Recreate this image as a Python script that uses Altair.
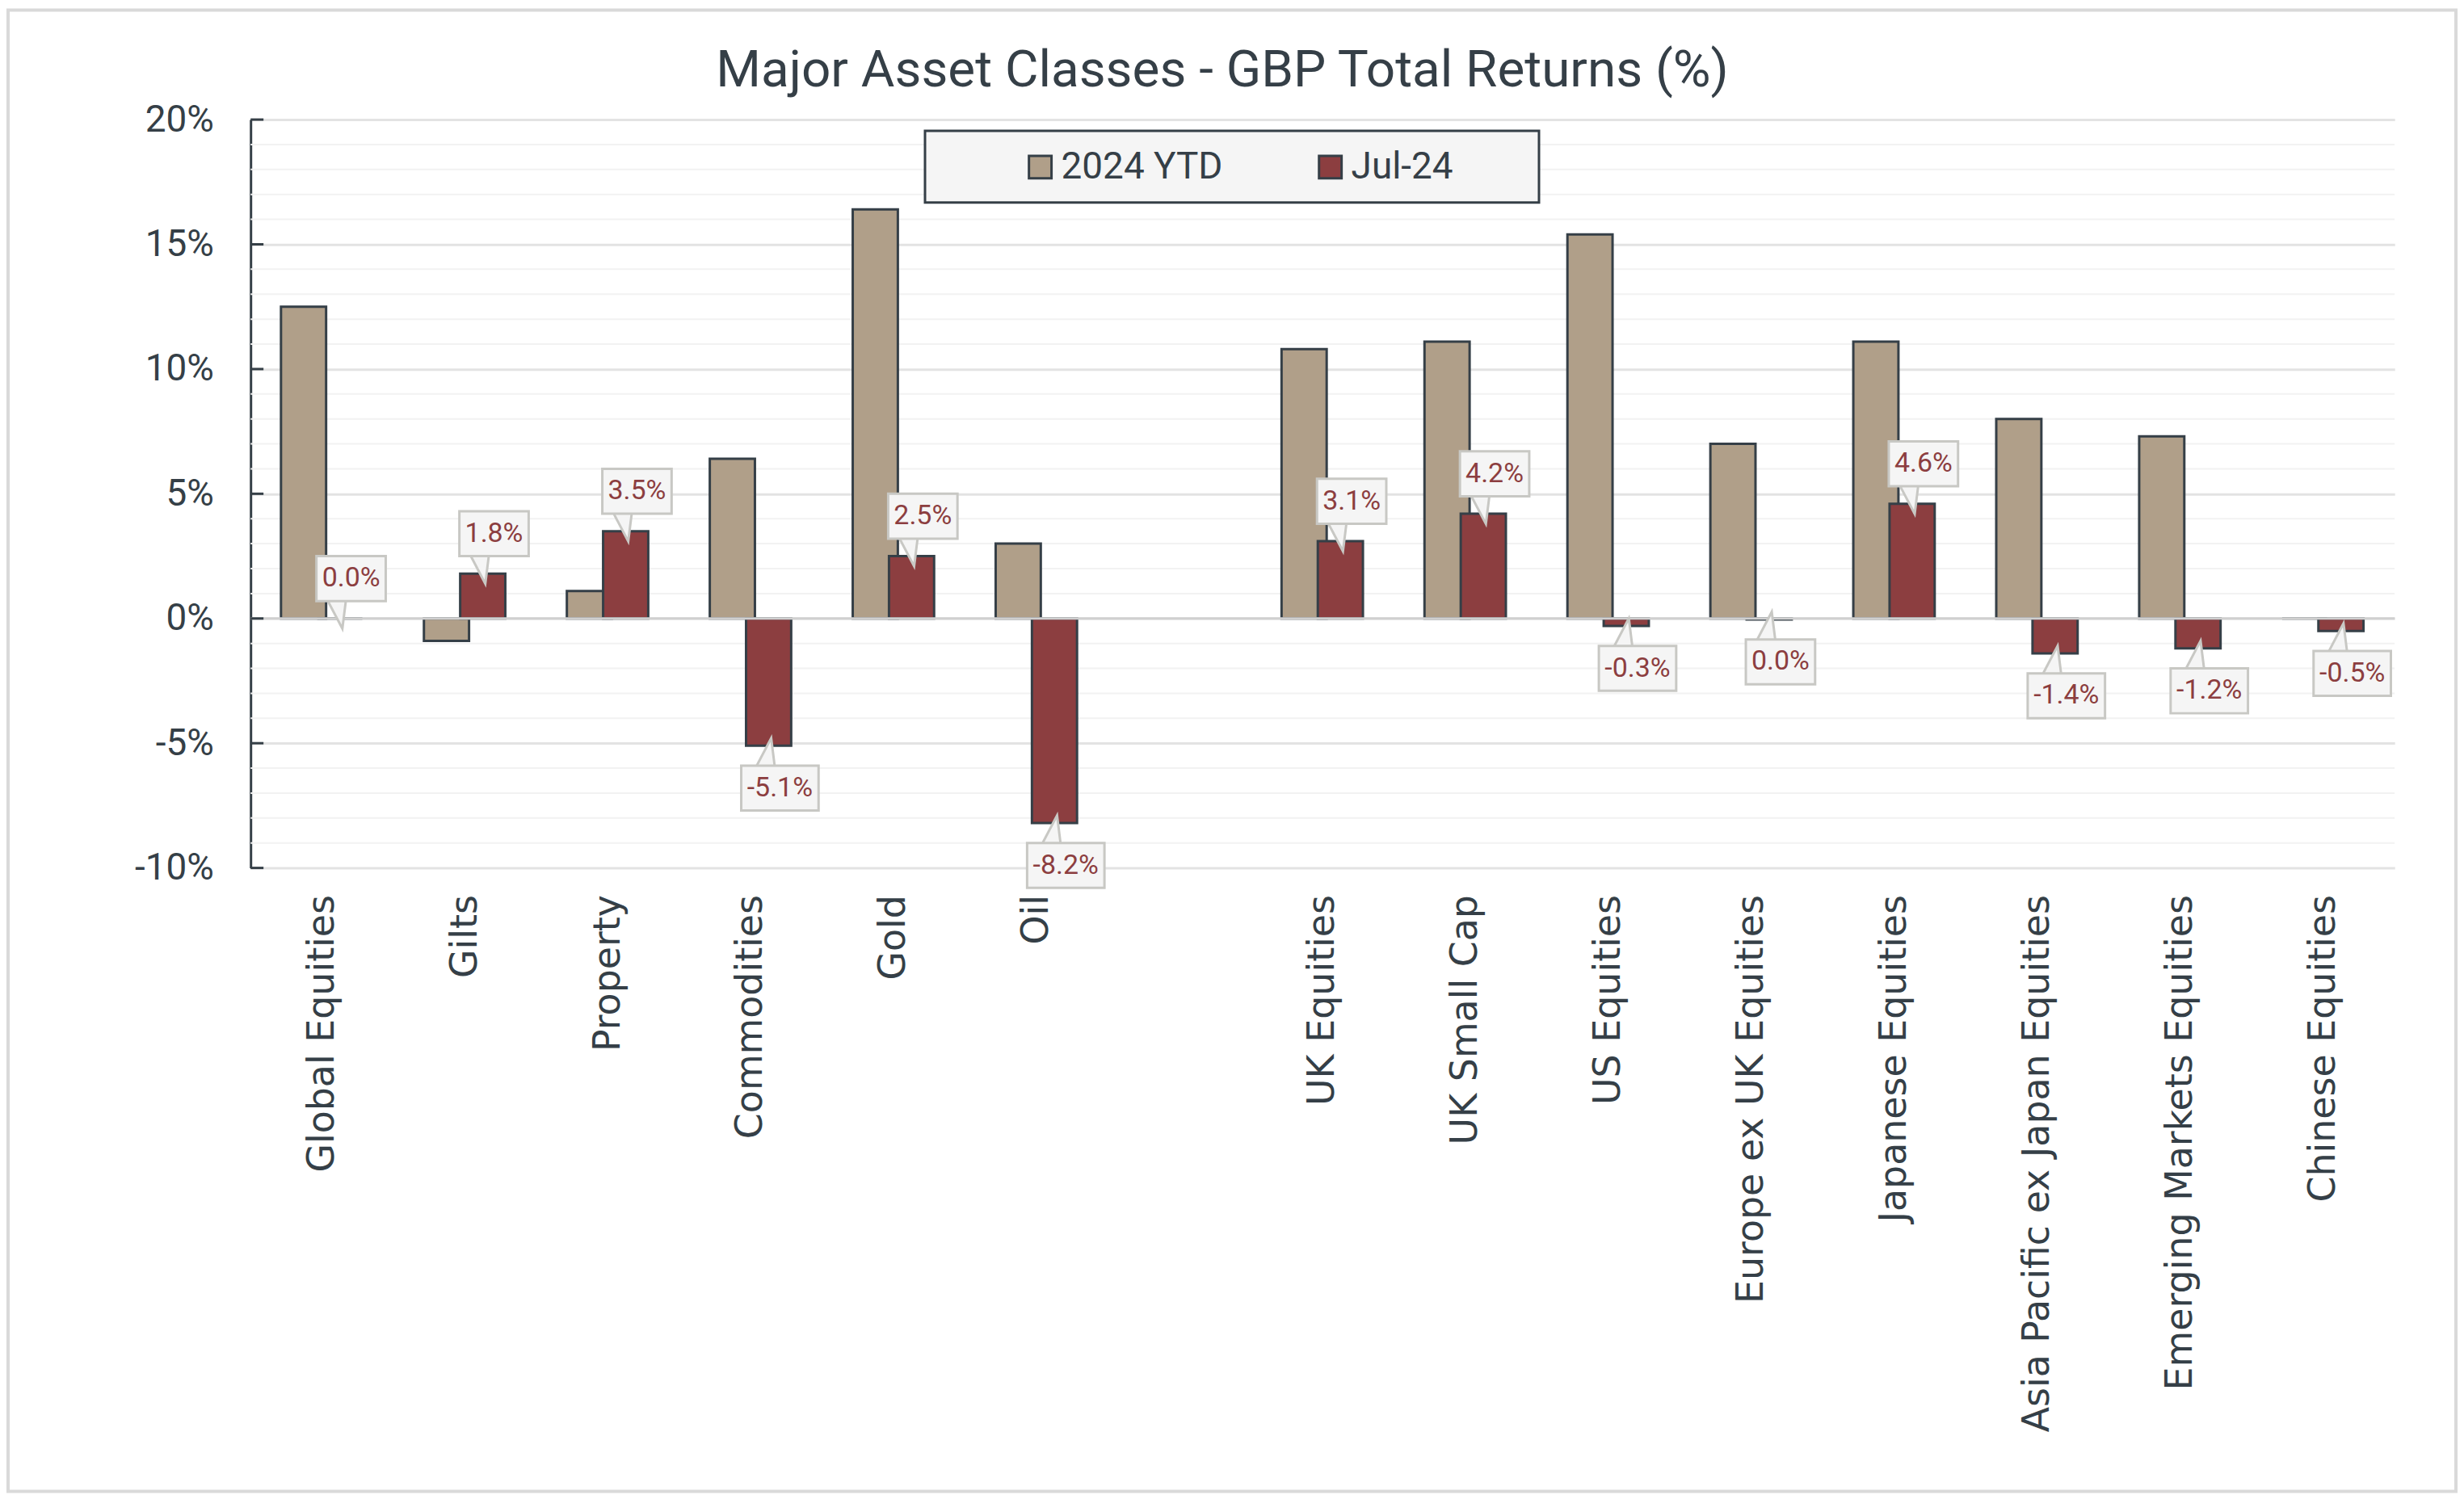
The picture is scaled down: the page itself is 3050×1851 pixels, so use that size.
import altair as alt
import pandas as pd

# ---------------- data ----------------
categories = ["Global Equities", "Gilts", "Property", "Commodities", "Gold", "Oil",
              "UK Equities", "UK Small Cap", "US Equities", "Europe ex UK Equities",
              "Japanese Equities", "Asia Pacific ex Japan Equities",
              "Emerging Markets Equities", "Chinese Equities"]
ytd_2024 = [12.5, -0.9, 1.1, 6.4, 16.4, 3.0, 10.8, 11.1, 15.4, 7.0, 11.1, 8.0, 7.3, 0.0]
jul_24 = [0.0, 1.8, 3.5, -5.1, 2.5, -8.2, 3.1, 4.2, -0.3, -0.04, 4.6, -1.4, -1.2, -0.5]
series_names = ["2024 YTD", "Jul-24"]
y_ticks = [-10, -5, 0, 5, 10, 15, 20]
y_minor = [v for v in range(-10, 21) if v % 5 != 0]
gap_label = " "
x_domain = categories[:6] + [gap_label] + categories[6:]
TITLE = "Major Asset Classes - GBP Total Returns (%)"

# ---------------- style ----------------
DARK = "#353F47"
TAN = "#B09F89"
RED = "#8C3E40"
BOX_FILL = "#F5F5F5"
BOX_STROKE = "#C8C8C4"
W, H = 2661, 929

rows = []
for c, a, b in zip(categories, ytd_2024, jul_24):
    rows.append({"cat": c, "series": series_names[0], "v": a})
    rows.append({"cat": c, "series": series_names[1], "v": b})
df = pd.DataFrame(rows)
df_jul = pd.DataFrame({"cat": categories, "v": jul_24})
one = pd.DataFrame({"v": [0], "title": [TITLE]})

xaxis = alt.Axis(title=None, labelAngle=-90, labelFont="DejaVu Sans", labelFontSize=46,
                 labelColor=DARK, labelPadding=33, ticks=False, domain=False, grid=False,
                 labelLimit=2000)
yaxis = alt.Axis(values=y_ticks, title=None, labelExpr="datum.value + '%'",
                 labelFont="Roboto", labelFontSize=46, labelColor=DARK, labelPadding=46,
                 ticks=False, domain=True, domainColor=DARK, domainWidth=3,
                 grid=True, gridColor="#E3E3E3", gridWidth=3, labelOverlap=False)


def X():
    return alt.X("cat:N", scale=alt.Scale(domain=x_domain, paddingInner=0, paddingOuter=0),
                 axis=xaxis, sort=x_domain)


def Y(field):
    return alt.Y(f"{field}:Q", scale=alt.Scale(domain=[-10, 20], nice=False, zero=False),
                 axis=yaxis, stack=None)


color = alt.Color("series:N", scale=alt.Scale(domain=series_names, range=[TAN, RED]),
                  legend=alt.Legend(title=None, orient="none", legendX=957, legendY=36,
                                    direction="horizontal", symbolType="square",
                                    symbolSize=784, symbolStrokeColor=DARK,
                                    symbolStrokeWidth=3, labelFont="Roboto",
                                    labelFontSize=46, labelColor=DARK, labelOffset=3,
                                    labelLimit=600, columnPadding=110, padding=0))

minor_grid = alt.Chart(pd.DataFrame({"v": y_minor})).mark_rule(
    color="#F2F2F2", strokeWidth=2).encode(y=Y("v"))

bars_ytd = alt.Chart(df).transform_filter(alt.datum.series == series_names[0]).mark_bar(
    width=56, xOffset=-23, stroke=DARK, strokeWidth=3).encode(x=X(), y=Y("v"), color=color)
bars_jul = alt.Chart(df).transform_filter(alt.datum.series == series_names[1]).mark_bar(
    width=56, xOffset=22, stroke=DARK, strokeWidth=3).encode(x=X(), y=Y("v"), color=color)

zero_line = alt.Chart(one).mark_rule(color="#D0D0D0", strokeWidth=3).encode(y=Y("v"))

ticks = alt.Chart(pd.DataFrame({"v": y_ticks})).mark_rule(color=DARK, strokeWidth=3).encode(
    y=Y("v"), x=alt.value(0), x2=alt.value(16))

lab_base = alt.Chart(df_jul).transform_calculate(
    lab="(datum.v <= -0.05 ? '-' : '') + format(abs(datum.v), '.1f') + '%'",
    box_lo="datum.v >= 0 ? datum.v + 0.7 : datum.v - 2.6",
    box_hi="datum.v >= 0 ? datum.v + 2.5 : datum.v - 0.8",
    box_mid="datum.v >= 0 ? datum.v + 1.6 : datum.v - 1.7",
    wedge_y="datum.v >= 0 ? datum.v + 0.175 : datum.v - 0.275",
)

PATH_POS = "M -0.65 -1 L 0.65 -1 L 0.4 1 Z"
PATH_NEG = "M -0.65 1 L 0.65 1 L 0.4 -1 Z"
wedge = lab_base.mark_point(filled=True, fill=BOX_FILL, stroke=BOX_STROKE, strokeWidth=3,
                            size=1296, opacity=1, xOffset=18).encode(
    x=X(), y=Y("wedge_y"),
    shape=alt.condition("datum.v >= 0", alt.value(PATH_POS), alt.value(PATH_NEG)))

box4 = lab_base.transform_filter("length(datum.lab) <= 4").mark_bar(
    width=86, fill=BOX_FILL, stroke=BOX_STROKE, strokeWidth=3, xOffset=36).encode(
    x=X(), y=Y("box_lo"), y2=alt.Y2("box_hi:Q"))
box5 = lab_base.transform_filter("length(datum.lab) > 4").mark_bar(
    width=96, fill=BOX_FILL, stroke=BOX_STROKE, strokeWidth=3, xOffset=36).encode(
    x=X(), y=Y("box_lo"), y2=alt.Y2("box_hi:Q"))

labels = lab_base.mark_text(font="Roboto", fontSize=34, color=RED, xOffset=36,
                            align="center", baseline="middle").encode(
    x=X(), y=Y("box_mid"), text="lab:N")

legend_box = alt.Chart(one).mark_rect(fill=BOX_FILL, stroke=DARK, strokeWidth=3).encode(
    x=alt.value(837), x2=alt.value(1599), y=alt.value(14), y2=alt.value(103))

title_text = alt.Chart(one).mark_text(font="Roboto", fontSize=64, color=DARK,
                                      align="center", baseline="alphabetic").encode(
    x=alt.value(1206), y=alt.value(-41), text="title:N")

border = alt.Chart(one).mark_rect(fill="transparent", stroke="#D9D9D9", strokeWidth=4).encode(
    x=alt.value(-301), x2=alt.value(2737), y=alt.value(-136), y2=alt.value(1703))

chart = alt.layer(
    minor_grid, bars_ytd, bars_jul, zero_line, ticks, wedge, box4, box5, labels,
    legend_box, title_text, border
).properties(
    width=W, height=H,
    padding={"left": 303, "top": 138, "right": 78, "bottom": 776},
    autosize=alt.AutoSizeParams(type="none"),
).configure(background="white").configure_view(stroke=None)

chart.save("out.html", embed_options={"renderer": "svg", "actions": False})
